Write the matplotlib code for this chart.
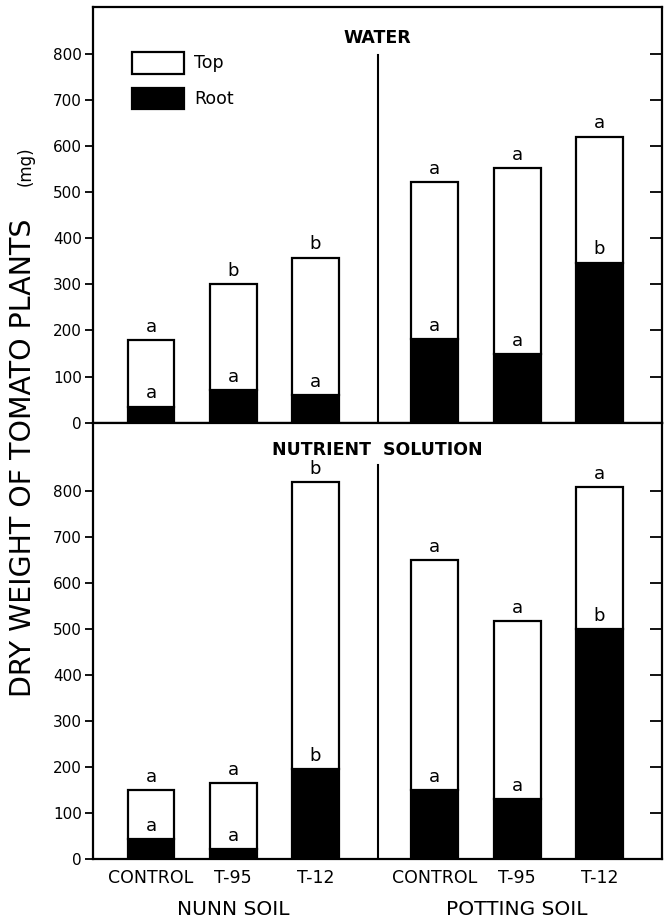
import matplotlib
matplotlib.use('Agg')
import matplotlib.pyplot as plt
from matplotlib.patches import Patch

# ---------- data ----------
treatments = ["CONTROL", "T-95", "T-12", "CONTROL", "T-95", "T-12"]
soils = ["NUNN SOIL", "POTTING SOIL"]

water_total = [180, 300, 358, 521, 552, 620]
water_root = [35, 71, 60, 181, 149, 347]
water_top_letters = ["a", "b", "b", "a", "a", "a"]
water_root_letters = ["a", "a", "a", "a", "a", "b"]

nutr_total = [150, 165, 820, 649, 518, 808]
nutr_root = [44, 22, 196, 150, 130, 500]
nutr_top_letters = ["a", "a", "b", "a", "a", "a"]
nutr_root_letters = ["a", "a", "b", "a", "a", "b"]

# bar layout (two groups with a gap)
xpos = [0, 1, 2, 3.45, 4.45, 5.45]
divider = 2.755
width = 0.57

plt.rcParams['font.family'] = ['DejaVu Sans']

fig = plt.figure(figsize=(6.71, 9.22), dpi=100)
ax_top = fig.add_axes([0.1386, 0.5415, 0.8479, 0.4504])
ax_bot = fig.add_axes([0.1386, 0.0680, 0.8479, 0.4735])

lw = 1.6


def draw_panel(ax, total, root, top_letters, root_letters, ymax, title, title_y, div_top):
    top_part = [t - r for t, r in zip(total, root)]
    roots = ax.bar(xpos, root, width=width, color='black', edgecolor='black', linewidth=lw)
    tops = ax.bar(xpos, top_part, bottom=root, width=width, color='white',
                  edgecolor='black', linewidth=lw)
    for x, t, r, lt, lr in zip(xpos, total, root, top_letters, root_letters):
        ax.annotate(lt, (x, t), xytext=(0, 3), textcoords='offset points',
                    ha='center', va='bottom', fontsize=13)
        ax.annotate(lr, (x, r), xytext=(0, 3), textcoords='offset points',
                    ha='center', va='bottom', fontsize=13)
    ax.plot([divider, divider], [0, div_top], color='black', lw=1.5)
    ax.text(divider, title_y, title, ha='center', va='center', fontsize=12.5,
            fontweight='bold')
    ax.set_xlim(-0.705, 6.21)
    ax.set_ylim(0, ymax)
    ax.set_yticks(range(0, 801, 100))
    ax.tick_params(axis='y', direction='out', length=6, width=1.3, labelsize=11, pad=2)
    for s in ax.spines.values():
        s.set_linewidth(lw)
    # right-side inward ticks
    axr = ax.twinx()
    axr.set_ylim(0, ymax)
    axr.set_yticks(range(0, 801, 100))
    axr.tick_params(axis='y', direction='in', length=9, width=1.3, labelright=False)
    for s in axr.spines.values():
        s.set_visible(False)
    return tops, roots


tops, roots = draw_panel(ax_top, water_total, water_root, water_top_letters,
                         water_root_letters, 900, "WATER", 834, 797)
ax_top.set_xticks([])

draw_panel(ax_bot, nutr_total, nutr_root, nutr_top_letters,
           nutr_root_letters, 948, "NUTRIENT  SOLUTION", 889, 856)
ax_bot.set_xticks(xpos)
ax_bot.set_xticklabels(treatments, fontsize=12.5)
ax_bot.tick_params(axis='x', length=0, pad=7)

# soil group labels
for i, soil in enumerate(soils):
    ax_bot.text(xpos[3 * i + 1], -0.116, soil, transform=ax_bot.get_xaxis_transform(),
                ha='center', va='center', fontsize=14.5)

# legend
ax_top.legend([Patch(facecolor='white', edgecolor='black', linewidth=lw),
               Patch(facecolor='black', edgecolor='black', linewidth=lw)],
              ["Top", "Root"], loc='upper left', bbox_to_anchor=(0.068, 0.893),
              frameon=False, fontsize=12.5, handlelength=3.0, handleheight=1.55,
              handletextpad=0.6, labelspacing=0.8, borderpad=0, borderaxespad=0)

# y label
fig.text(0.034, 0.503, "DRY WEIGHT OF TOMATO PLANTS", rotation=90,
         ha='center', va='center', fontsize=20.5)
fig.text(0.038, 0.82, "(mg)", rotation=90, ha='center', va='center', fontsize=12)

fig.savefig('out.png', dpi=100)
